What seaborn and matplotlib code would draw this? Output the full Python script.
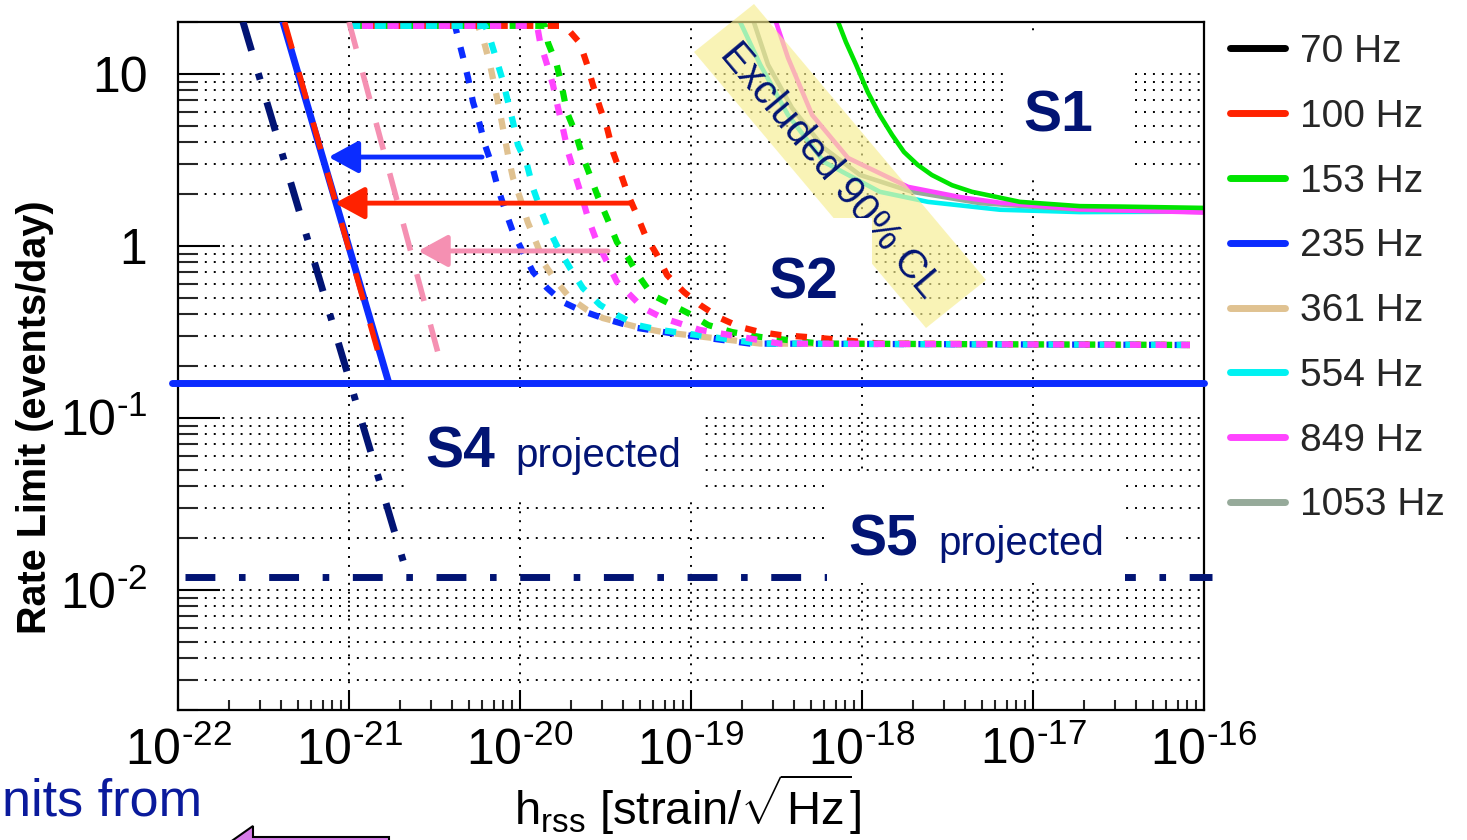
import numpy as np
import matplotlib
matplotlib.use("Agg")
import matplotlib.pyplot as plt
import seaborn as sns
from matplotlib.lines import Line2D
from matplotlib.patches import Polygon, Rectangle
from matplotlib.ticker import LogLocator, FixedLocator, FixedFormatter, NullFormatter

# ---------------- data ----------------
freq_labels = ['70 Hz', '100 Hz', '153 Hz', '235 Hz', '361 Hz', '554 Hz', '849 Hz', '1053 Hz']
freq_colors = ['#000000', '#ff2200', '#00e400', '#0b2cff', '#e0c291', '#00f2f2', '#ff44ff', '#96aa9a']

HY = '\u2010'
x_ticks = [1e-22, 1e-21, 1e-20, 1e-19, 1e-18, 1e-17, 1e-16]
x_tick_labels = [r'$10^{%s22}$' % HY, r'$10^{%s21}$' % HY, r'$10^{%s20}$' % HY, r'$10^{%s19}$' % HY,
                 r'$10^{%s18}$' % HY, r'$10^{%s17}$' % HY, r'$10^{%s16}$' % HY]
y_ticks = [0.01, 0.1, 1, 10]
y_tick_labels = [r'$10^{%s2}$' % HY, r'$10^{%s1}$' % HY, '1', '10']

# S1 upper limits (solid)
s1_153_h = [7.25e-19, 8.05e-19, 9.23e-19, 1.08e-18, 1.27e-18, 1.50e-18, 1.76e-18, 2.12e-18, 2.56e-18,
            3.36e-18, 4.39e-18, 8.39e-18, 1.88e-17, 3.23e-17, 1.0e-16]
s1_153_rate = [20.0, 15.3, 11.3, 7.84, 5.76, 4.41, 3.51, 2.95, 2.58, 2.25, 2.06, 1.80, 1.70, 1.69, 1.66]
s1_554_h = [1.94e-19, 2.54e-19, 3.69e-19, 6.00e-19, 1.27e-18, 2.43e-18, 6.41e-18, 1.88e-17, 1.0e-16]
s1_554_rate = [20.0, 11.3, 5.76, 3.07, 2.06, 1.80, 1.62, 1.57, 1.58]
s1_849_h = [3.14e-19, 3.69e-19, 5.11e-19, 8.28e-19, 1.86e-18, 3.74e-18, 6.41e-18, 1.88e-17, 1.0e-16]
s1_849_rate = [20.0, 12.4, 5.76, 3.24, 2.20, 1.92, 1.78, 1.63, 1.56]
s1_1053_h = [2.33e-19, 2.82e-19, 3.90e-19, 6.00e-19, 9.73e-19, 1.96e-18, 4.90e-18, 1.88e-17, 1.0e-16]
s1_1053_rate = [20.0, 11.3, 6.32, 3.70, 2.58, 2.06, 1.77, 1.62, 1.57]

# S2 upper limits (dotted)
s2_235_h = [1.0e-21, 4.17e-21, 4.65e-21, 4.97e-21, 5.31e-21, 5.83e-21, 6.24e-21, 6.85e-21, 7.42e-21,
            8.17e-21, 9.10e-21, 1.04e-20, 1.19e-20, 1.44e-20, 1.78e-20, 2.24e-20, 3.05e-20, 4.83e-20,
            7.53e-20, 2.21e-19, 8.28e-17]
s2_235_rate = [19, 19, 12.4, 9.45, 6.85, 5.04, 3.86, 2.95, 2.17, 1.62, 1.20, 0.920, 0.705, 0.568,
               0.471, 0.423, 0.380, 0.333, 0.311, 0.270, 0.265]
s2_361_h = [1.0e-21, 5.67e-21, 6.08e-21, 6.68e-21, 7.14e-21, 7.63e-21, 8.51e-21, 9.10e-21, 1.00e-20,
            1.11e-20, 1.26e-20, 1.40e-20, 1.64e-20, 1.96e-20, 2.47e-20, 3.05e-20, 4.83e-20, 6.85e-20,
            2.54e-19, 8.28e-17]
s2_361_rate = [19, 19, 16.1, 11.3, 8.27, 5.99, 3.37, 2.48, 1.90, 1.37, 1.01, 0.773, 0.616, 0.497,
               0.423, 0.380, 0.337, 0.315, 0.270, 0.265]
s2_554_h = [1.0e-21, 6.24e-21, 6.50e-21, 7.14e-21, 7.85e-21, 8.40e-21, 9.10e-21, 9.72e-21, 1.10e-20,
            1.19e-20, 1.31e-20, 1.46e-20, 1.67e-20, 1.96e-20, 2.33e-20, 2.94e-20, 3.69e-20, 4.83e-20,
            6.59e-20, 2.54e-19, 8.28e-17]
s2_554_rate = [19, 19, 17.5, 12.9, 9.45, 7.23, 5.24, 3.86, 2.95, 2.17, 1.66, 1.27, 0.971, 0.743,
               0.568, 0.453, 0.396, 0.346, 0.324, 0.270, 0.265]
s2_849_h = [1.0e-21, 1.26e-20, 1.31e-20, 1.44e-20, 1.56e-20, 1.67e-20, 1.78e-20, 1.91e-20, 2.10e-20,
            2.31e-20, 2.50e-20, 2.82e-20, 3.23e-20, 3.69e-20, 4.40e-20, 5.24e-20, 6.85e-20, 1.13e-19,
            3.31e-19, 8.28e-17]
s2_849_rate = [19, 19, 15.3, 11.3, 8.60, 6.32, 4.84, 3.51, 2.58, 1.90, 1.45, 1.05, 0.805, 0.616,
               0.518, 0.435, 0.380, 0.324, 0.270, 0.265]
s2_153_h = [1.0e-21, 1.40e-20, 1.46e-20, 1.64e-20, 1.76e-20, 1.88e-20, 2.10e-20, 2.31e-20, 2.56e-20,
            2.86e-20, 3.23e-20, 3.69e-20, 4.29e-20, 5.04e-20, 5.92e-20, 7.75e-20, 1.01e-19, 1.26e-19,
            1.74e-19, 2.54e-19, 5.67e-19, 8.28e-17]
s2_153_rate = [19, 19, 15.1, 11.3, 8.38, 5.99, 4.59, 3.37, 2.58, 1.92, 1.45, 1.05, 0.849, 0.650,
               0.518, 0.453, 0.396, 0.346, 0.315, 0.295, 0.270, 0.265]
s2_100_h = [1.0e-21, 1.83e-20, 2.24e-20, 2.47e-20, 2.67e-20, 2.94e-20, 3.23e-20, 3.50e-20, 3.85e-20,
            4.29e-20, 4.83e-20, 5.38e-20, 6.33e-20, 7.24e-20, 9.10e-20, 1.13e-19, 1.48e-19, 1.94e-19,
            2.54e-19, 3.31e-19, 5.67e-19, 1.27e-18, 8.28e-17]
s2_100_rate = [19, 19, 15.1, 11.3, 8.60, 6.32, 4.84, 3.51, 2.69, 1.97, 1.51, 1.16, 0.884, 0.676,
               0.538, 0.453, 0.380, 0.337, 0.315, 0.303, 0.291, 0.270, 0.265]

# S4 projected
s4_235_h = [4.11e-22, 1.71e-21]
s4_235_rate = [20.0, 0.159]
s4_100_h = [4.2e-22, 1.60e-21]
s4_100_rate = [20.0, 0.183]
s4_pink_h = [1.0e-21, 3.55e-21]
s4_pink_rate = [20.0, 0.185]
s4_flat_h = [0.92e-22, 1.0e-16]
s4_flat_rate = [0.159, 0.159]

# S5 projected
s5_h = [2.40e-22, 2.21e-21]
s5_rate = [20.0, 0.0119]
s5_flat_h = [1.1e-22, 1.11e-16]
s5_flat_rate = [0.0119, 0.0119]

# improvement arrows (tail -> tip)
arrow_tail_h = [6.0e-21, 4.52e-20, 3.27e-20]
arrow_tip_h = [7.6e-22, 8.28e-22, 2.54e-21]
arrow_rate = [3.28, 1.77, 0.933]
arrow_colors = ['#0b2cff', '#ff2200', '#f590b2']

# ---------------- style ----------------
sns.set_theme(style='white')
plt.rcParams['font.family'] = ['Liberation Sans', 'DejaVu Sans']
plt.rcParams['mathtext.fontset'] = 'custom'
plt.rcParams['mathtext.rm'] = 'Liberation Sans'
plt.rcParams['mathtext.it'] = 'Liberation Sans:italic'
plt.rcParams['mathtext.bf'] = 'Liberation Sans:bold'
plt.rcParams['axes.edgecolor'] = 'black'
plt.rcParams['axes.linewidth'] = 1.6

W, H = 1467, 840
fig = plt.figure(figsize=(W / 100, H / 100), dpi=100)
fig.patch.set_facecolor('white')


def fx(px):
    return px / W


def fy(py):
    return 1 - py / H


ax = fig.add_axes([fx(178), fy(710), (1204 - 178) / W, (710 - 22) / H])
ax.set_facecolor('white')
ax.set_xscale('log')
ax.set_yscale('log')
ax.set_xlim(1e-22, 1e-16)
ax.set_ylim(0.002, 20)

navy = '#021474'


def draw(h, r, color, lw, ls='-', z=2, clip=True):
    sns.lineplot(x=h, y=r, ax=ax, color=color, linewidth=lw, linestyle=ls,
                 sort=False, estimator=None, legend=False, zorder=z, clip_on=clip)


# S1 solid
draw(s1_554_h, s1_554_rate, freq_colors[5], 3.3)
draw(s1_1053_h, s1_1053_rate, freq_colors[7], 3.3)
draw(s1_849_h, s1_849_rate, freq_colors[6], 3.3)
draw(s1_153_h, s1_153_rate, freq_colors[2], 3.3)

# S2 dotted
dot = lambda off: (off, (1.8, 2.3))
draw(s2_235_h, s2_235_rate, freq_colors[3], 4.5, dot(0.0), 2.4)
draw(s2_361_h, s2_361_rate, freq_colors[4], 4.5, dot(1.0), 2.4)
draw(s2_153_h, s2_153_rate, freq_colors[2], 4.5, dot(3.0), 2.45)
draw(s2_100_h, s2_100_rate, freq_colors[1], 4.5, dot(1.0), 2.45)
draw(s2_554_h, s2_554_rate, freq_colors[5], 4.5, dot(0.0), 2.5)
draw(s2_849_h, s2_849_rate, freq_colors[6], 4.5, dot(2.05), 2.5)

# S4 projected
draw(s4_flat_h, s4_flat_rate, '#0b2cff', 5.0, '-', 3, clip=False)
draw(s4_235_h, s4_235_rate, '#0b2cff', 5.0, '-', 3)
draw(s4_100_h, s4_100_rate, freq_colors[1], 4.0, (0, (5.0, 4.4)), 3.1)
draw(s4_pink_h, s4_pink_rate, '#f590b2', 4.0, (0, (5.0, 4.4)), 3.1)

# S5 projected
dashdot = (0, (4.3, 3.4, 0.95, 3.4))
draw(s5_flat_h, s5_flat_rate, navy, 5.0, dashdot, 3, clip=False)
draw(s5_h, s5_rate, navy, 5.0, dashdot, 3)

# arrows
for t, p, r, c in zip(arrow_tail_h, arrow_tip_h, arrow_rate, arrow_colors):
    ax.annotate('', xy=(p, r), xytext=(t, r), zorder=4.5,
                arrowprops=dict(arrowstyle='-|>,head_length=0.9,head_width=0.49',
                                mutation_scale=20, lw=3.5, color=c,
                                shrinkA=0, shrinkB=0))

# excluded band
band = Polygon([(fx(694), fy(52)), (fx(754), fy(4)), (fx(986), fy(280)), (fx(926), fy(328))],
               closed=True, transform=fig.transFigure, facecolor='#f7ee90', alpha=0.65,
               edgecolor='none', zorder=3.6, clip_on=False)
ax.add_patch(band)
ax.text(fx(830), fy(170), 'Excluded 90% CL', transform=fig.transFigure, rotation=-50,
        rotation_mode='anchor', ha='center', va='center', fontsize=29, color=navy,
        zorder=3.7, clip_on=False)

# white label boxes
for (x0, y0, x1, y1) in [(1003, 35, 1132, 178), (732, 218, 872, 318),
                         (404, 392, 701, 497), (827, 475, 1125, 583)]:
    ax.add_patch(Rectangle((fx(x0), fy(y1)), (x1 - x0) / W, (y1 - y0) / H,
                           transform=fig.transFigure, facecolor='white',
                           edgecolor='none', zorder=4, clip_on=False))

tk = dict(transform=fig.transFigure, color=navy, zorder=5, va='baseline')
ax.text(fx(1058), fy(131), 'S1', fontsize=41, fontweight='bold', ha='center', **tk)
ax.text(fx(803), fy(298), 'S2', fontsize=41, fontweight='bold', ha='center', **tk)
ax.text(fx(425), fy(467), 'S4', fontsize=41, fontweight='bold', ha='left', **tk)
ax.text(fx(515), fy(467), 'projected', fontsize=29, ha='left', **tk)
ax.text(fx(848), fy(555), 'S5', fontsize=41, fontweight='bold', ha='left', **tk)
ax.text(fx(938), fy(555), 'projected', fontsize=29, ha='left', **tk)

# axes styling
ax.xaxis.set_major_locator(FixedLocator(x_ticks))
ax.xaxis.set_major_formatter(FixedFormatter(x_tick_labels))
ax.yaxis.set_major_locator(FixedLocator(y_ticks))
ax.yaxis.set_major_formatter(FixedFormatter(y_tick_labels))
ax.xaxis.set_minor_locator(LogLocator(base=10, subs=np.arange(2, 10), numticks=100))
ax.yaxis.set_minor_locator(LogLocator(base=10, subs=np.arange(2, 10), numticks=100))
ax.xaxis.set_minor_formatter(NullFormatter())
ax.yaxis.set_minor_formatter(NullFormatter())

ax.tick_params(axis='x', which='major', direction='in', length=14.4, width=1.5,
               labelsize=36, pad=12, top=False, bottom=True, colors='black')
ax.tick_params(axis='x', which='minor', direction='in', length=7.2, width=1.5,
               top=False, bottom=True)
ax.tick_params(axis='y', which='major', direction='in', length=30, width=1.5,
               labelsize=36, pad=22, right=False, left=True, colors='black')
ax.tick_params(axis='y', which='minor', direction='in', length=14.4, width=1.5,
               right=False, left=True)

ax.set_axisbelow(True)
gridstyle = dict(color='black', linewidth=1.4, linestyle=(0, (1, 3.6)))
ax.xaxis.grid(True, which='major', **gridstyle)
ax.yaxis.grid(True, which='both', **gridstyle)
for s in ax.spines.values():
    s.set_color('black')
    s.set_linewidth(1.6)

ax.set_xlabel('')
ax.set_ylabel('')

# legend
handles = [Line2D([0], [0], color=c, lw=5.0) for c in freq_colors]
ax.legend(handles, freq_labels, loc='upper left', bbox_to_anchor=(fx(1230), fy(34)),
          bbox_transform=fig.transFigure, frameon=False, fontsize=28,
          handlelength=1.41, handletextpad=0.39, labelspacing=0.74,
          borderpad=0, borderaxespad=0)

# axis titles
fig.text(fx(35), fy(417), 'Rate Limit (events/day)', rotation=90, fontsize=28.5,
         fontweight='bold', ha='center', va='center', color='black')
fig.text(fx(688), fy(825), r'h$_{\mathrm{rss}}$ [strain/$\sqrt{\mathrm{Hz}}$]',
         fontsize=34, ha='center', va='baseline', color='black')

# slide fragments (visible part of a cropped slide caption)
fig.text(fx(2), fy(815), 'nits from', fontsize=37.5, ha='left', va='baseline',
         color='#0a1a9c')
fig.add_artist(Polygon([(fx(216), fy(852)), (fx(253), fy(826)), (fx(253), fy(837)),
                        (fx(389), fy(837)), (fx(389), fy(852))], closed=True,
                       transform=fig.transFigure, facecolor='#d77be8',
                       edgecolor='black', linewidth=1.5))

fig.savefig('out.png', dpi=100, facecolor='white')
